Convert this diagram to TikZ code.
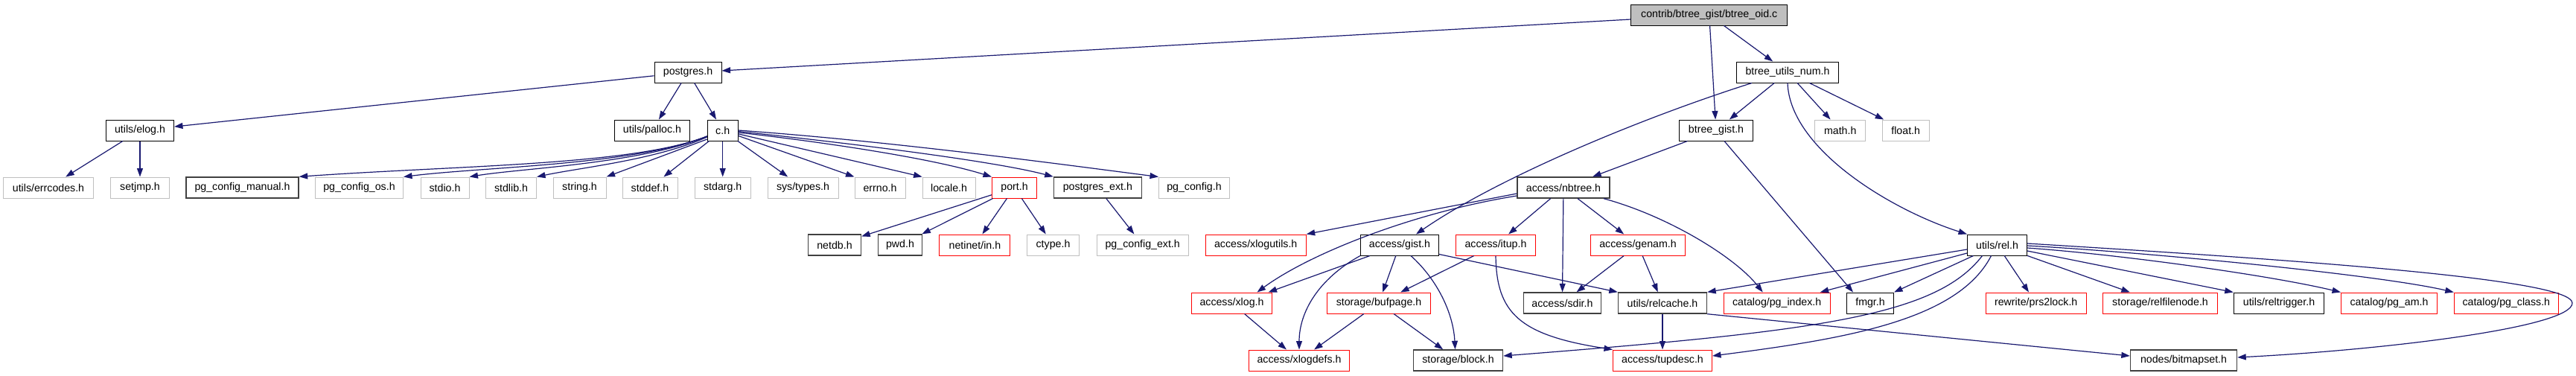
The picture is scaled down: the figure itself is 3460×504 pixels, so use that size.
\documentclass[tikz,border=0pt]{standalone}
\usepackage{fontspec}
\setmainfont{Liberation Sans}
\usetikzlibrary{arrows.meta}
\definecolor{edgec}{HTML}{191970}
\definecolor{grayb}{HTML}{BFBFBF}
\definecolor{redb}{HTML}{FF0000}
\tikzset{
  nb/.style={draw=black, line width=1pt, fill=white, minimum height=28pt, inner sep=0pt, font=\fontsize{14.2}{16}\selectfont},
  gb/.style={nb, draw=grayb},
  rb/.style={nb, draw=redb},
  dk/.style={nb, draw=black!75, line width=1.4pt},
  mb/.style={nb, fill=grayb},
  ed/.style={draw=edgec, line width=1.2pt, -{Triangle[length=11.5pt,width=8pt]}},
}
\begin{document}
\begin{tikzpicture}[x=1pt,y=-1pt]
\fill[white] (0,0) rectangle (3460,504);
\useasboundingbox (0,0) rectangle (3460,504);
% row 0
\node[mb, minimum width=210pt] (main) at (2295.7,20) {contrib/btree\_gist/btree\_oid.c};
% row 1
\node[nb, minimum width=90pt] (postgres) at (924,97) {postgres.h};
\node[nb, minimum width=137pt] (bun) at (2401,97) {btree\_utils\_num.h};
% row 2
\node[nb, minimum width=91pt] (elog) at (188,175) {utils/elog.h};
\node[nb, minimum width=101pt] (palloc) at (876,175) {utils/palloc.h};
\node[nb, minimum width=41pt] (ch) at (970.7,175) {c.h};
\node[nb, minimum width=99pt] (bgist) at (2305,175) {btree\_gist.h};
\node[gb, minimum width=68pt] (math) at (2471.7,175) {math.h};
\node[gb, minimum width=63pt] (float) at (2559.7,175) {float.h};
% row 3
\node[gb, minimum width=121pt] (errcodes) at (65,252) {utils/errcodes.h};
\node[gb, minimum width=79pt] (setjmp) at (188,252) {setjmp.h};
\node[dk, minimum width=151pt] (pgcm) at (325.5,252) {pg\_config\_manual.h};
\node[gb, minimum width=118pt] (pgcos) at (482.5,252) {pg\_config\_os.h};
\node[gb, minimum width=65pt] (stdio) at (597.5,252) {stdio.h};
\node[gb, minimum width=68pt] (stdlib) at (686.5,252) {stdlib.h};
\node[gb, minimum width=71pt] (string) at (778.5,252) {string.h};
\node[gb, minimum width=74pt] (stddef) at (873,252) {stddef.h};
\node[gb, minimum width=75pt] (stdarg) at (970.7,252) {stdarg.h};
\node[gb, minimum width=95pt] (systypes) at (1078.5,252) {sys/types.h};
\node[gb, minimum width=68pt] (errno) at (1182,252) {errno.h};
\node[gb, minimum width=71pt] (locale) at (1274.6,252) {locale.h};
\node[rb, minimum width=60pt] (port) at (1362.5,252) {port.h};
\node[dk, minimum width=118pt] (pgext) at (1474.4,252) {postgres\_ext.h};
\node[gb, minimum width=95pt] (pgconfig) at (1604,252) {pg\_config.h};
\node[dk, minimum width=124pt] (nbtree) at (2100,252) {access/nbtree.h};
% row 4
\node[dk, minimum width=71pt] (netdb) at (1121,329) {netdb.h};
\node[dk, minimum width=59pt] (pwd) at (1209,329) {pwd.h};
\node[rb, minimum width=95pt] (netinet) at (1309.4,329) {netinet/in.h};
\node[gb, minimum width=70pt] (ctype) at (1414.5,329) {ctype.h};
\node[gb, minimum width=123pt] (pgcext) at (1534.7,329) {pg\_config\_ext.h};
\node[rb, minimum width=135pt] (xlogutils) at (1686.7,329) {access/xlogutils.h};
\node[nb, minimum width=105pt] (gist) at (1880,329) {access/gist.h};
\node[rb, minimum width=107pt] (itup) at (2009,329) {access/itup.h};
\node[rb, minimum width=127pt] (genam) at (2200,329) {access/genam.h};
\node[nb, minimum width=80pt] (rel) at (2682.5,329) {utils/rel.h};
% row 5
\node[rb, minimum width=108pt] (xlog) at (1654.5,407) {access/xlog.h};
\node[rb, minimum width=139pt] (bufpage) at (1852,407) {storage/bufpage.h};
\node[dk, minimum width=104pt] (sdir) at (2098.4,407) {access/sdir.h};
\node[dk, minimum width=119pt] (relcache) at (2233,407) {utils/relcache.h};
\node[rb, minimum width=143pt] (pgindex) at (2386.7,407) {catalog/pg\_index.h};
\node[nb, minimum width=63pt] (fmgr) at (2512,407) {fmgr.h};
\node[rb, minimum width=135pt] (prs2lock) at (2734.7,407) {rewrite/prs2lock.h};
\node[rb, minimum width=154pt] (relfilenode) at (2901.5,407) {storage/relfilenode.h};
\node[nb, minimum width=121.5pt] (reltrigger) at (3061,407) {utils/reltrigger.h};
\node[rb, minimum width=129pt] (pgam) at (3209,407) {catalog/pg\_am.h};
\node[rb, minimum width=140pt] (pgclass) at (3366.3,407) {catalog/pg\_class.h};
% row 6
\node[rb, minimum width=135pt] (xlogdefs) at (1745,484) {access/xlogdefs.h};
\node[dk, minimum width=120pt] (block) at (1958.5,484) {storage/block.h};
\node[rb, minimum width=133pt] (tupdesc) at (2233,484) {access/tupdesc.h};
\node[dk, minimum width=143pt] (bitmapset) at (2933,484) {nodes/bitmapset.h};

% edges from main
\draw[ed] ([yshift=-6pt]main.west) -- ([yshift=2pt]postgres.east);
\draw[ed] (main) -- (bgist);
\draw[ed] (main) -- (bun);
% postgres.h
\draw[ed] (postgres) -- (elog);
\draw[ed] (postgres) -- (palloc);
\draw[ed] (postgres) -- (ch);
% elog
\draw[ed] (elog) -- (errcodes);
\draw[ed] (elog) -- (setjmp);
% c.h
\draw[ed] ([yshift=-8pt]ch.west) .. controls (850,222) and (620,222) .. (pgcm.north east);
\draw[ed] ([yshift=-8pt]ch.west) .. controls (850,222) and (650,224) .. (pgcos.north east);
\draw[ed] ([yshift=-8pt]ch.west) .. controls (860,220) and (700,226) .. (stdio.north east);
\draw[ed] ([yshift=-9pt]ch.west) .. controls (880,215) and (780,225) .. (stdlib.north east);
\draw[ed] ([yshift=-12pt]ch.west) -- (string.north east);
\draw[ed] (ch) -- (stddef);
\draw[ed] (ch) -- (stdarg);
\draw[ed] (ch) -- (systypes);
\draw[ed] (ch) -- (errno.north west);
\draw[ed] (ch) -- (locale.north west);
\draw[ed] ([yshift=-3pt]ch.east) .. controls (1100,190) and (1250,212) .. (port.north west);
\draw[ed] ([yshift=-1.5pt]ch.east) .. controls (1120,190) and (1330,215) .. (pgext.north west);
\draw[ed] (ch.east) .. controls (1200,190) and (1420,220) .. (pgconfig.north west);
% port.h
\draw[ed] (port) -- (netdb);
\draw[ed] (port) -- (pwd);
\draw[ed] (port) -- (netinet);
\draw[ed] (port) -- (ctype);
\draw[ed] (pgext) -- (pgcext);
% btree_utils_num.h
\draw[ed] (bun) -- (bgist);
\draw[ed] (bun) -- (math);
\draw[ed] (bun) -- (float);
\draw[ed] (bun.south) .. controls (2404,200) and (2540,282) .. (rel.north west);
\draw[ed] ([xshift=-48pt]bun.south) .. controls (2200,160) and (2010,240) .. ([xshift=22pt]gist.north);
% btree_gist.h
\draw[ed] (bgist) -- (nbtree);
\draw[ed] ([xshift=11pt]bgist.south) -- ([xshift=-23pt]fmgr.north);
% access/nbtree.h
\draw[ed] ([yshift=-8pt]nbtree.west) -- (xlogutils.north east);
\draw[ed] ([yshift=-11pt]nbtree.west) .. controls (1900,285) and (1760,340) .. ([xshift=34pt]xlog.north);
\draw[ed] (nbtree) -- (itup);
\draw[ed] (nbtree) -- (sdir);
\draw[ed] (nbtree) -- (genam);
\draw[ed] ([xshift=54pt]nbtree.south) .. controls (2240,290) and (2330,345) .. ([xshift=-19pt]pgindex.north);
% access/gist.h
\draw[ed] ([xshift=-40pt]gist.south) -- ([xshift=49pt]xlog.north);
\draw[ed] (gist.south west) .. controls (1770,375) and (1745,420) .. (xlogdefs.north);
\draw[ed] (gist) -- (bufpage);
\draw[ed] ([xshift=15pt]gist.south) .. controls (1930,375) and (1952,420) .. ([xshift=-4pt]block.north);
\draw[ed] ([yshift=2pt]gist.south east) -- (relcache.north west);
% access/itup.h
\draw[ed] (itup) -- (bufpage);
\draw[ed] (itup.south) .. controls (2010,420) and (2040,450) .. (tupdesc.north west);
% access/genam.h
\draw[ed] (genam) -- (sdir);
\draw[ed] (genam) -- (relcache);
% storage/bufpage.h
\draw[ed] (bufpage) -- (xlogdefs);
\draw[ed] (bufpage) -- (block);
% access/xlog.h
\draw[ed] (xlog) -- (xlogdefs);
% utils/relcache.h
\draw[ed] (relcache) -- (tupdesc);
\draw[ed] (relcache.south east) -- ([yshift=6pt]bitmapset.west);
% utils/rel.h
\draw[ed] ([yshift=-6pt]rel.west) -- (relcache.north east);
\draw[ed] ([yshift=-11pt]rel.west) -- ([xshift=58pt]pgindex.north);
\draw[ed] ([xshift=-32pt]rel.south) -- (fmgr.north east);
\draw[ed] ([xshift=-20pt]rel.south) .. controls (2600,425) and (2440,445) .. ([yshift=6pt]block.east);
\draw[ed] ([xshift=-8pt]rel.south) .. controls (2630,430) and (2480,455) .. ([yshift=6pt]tupdesc.east);
\draw[ed] (rel) -- (prs2lock);
\draw[ed] (rel) -- (relfilenode);
\draw[ed] ([yshift=-8pt]rel.east) -- (reltrigger.north west);
\draw[ed] ([yshift=-4pt]rel.east) .. controls (2850,342) and (3050,370) .. (pgam.north west);
\draw[ed] ([yshift=-1pt]rel.east) .. controls (2900,340) and (3200,370) .. (pgclass.north west);
\draw[ed] ([yshift=2pt]rel.east) .. controls (3100,350) and (3455,375) .. (3455,407) .. controls (3455,440) and (3200,470) .. ([yshift=4pt]bitmapset.east);
\end{tikzpicture}
\end{document}
